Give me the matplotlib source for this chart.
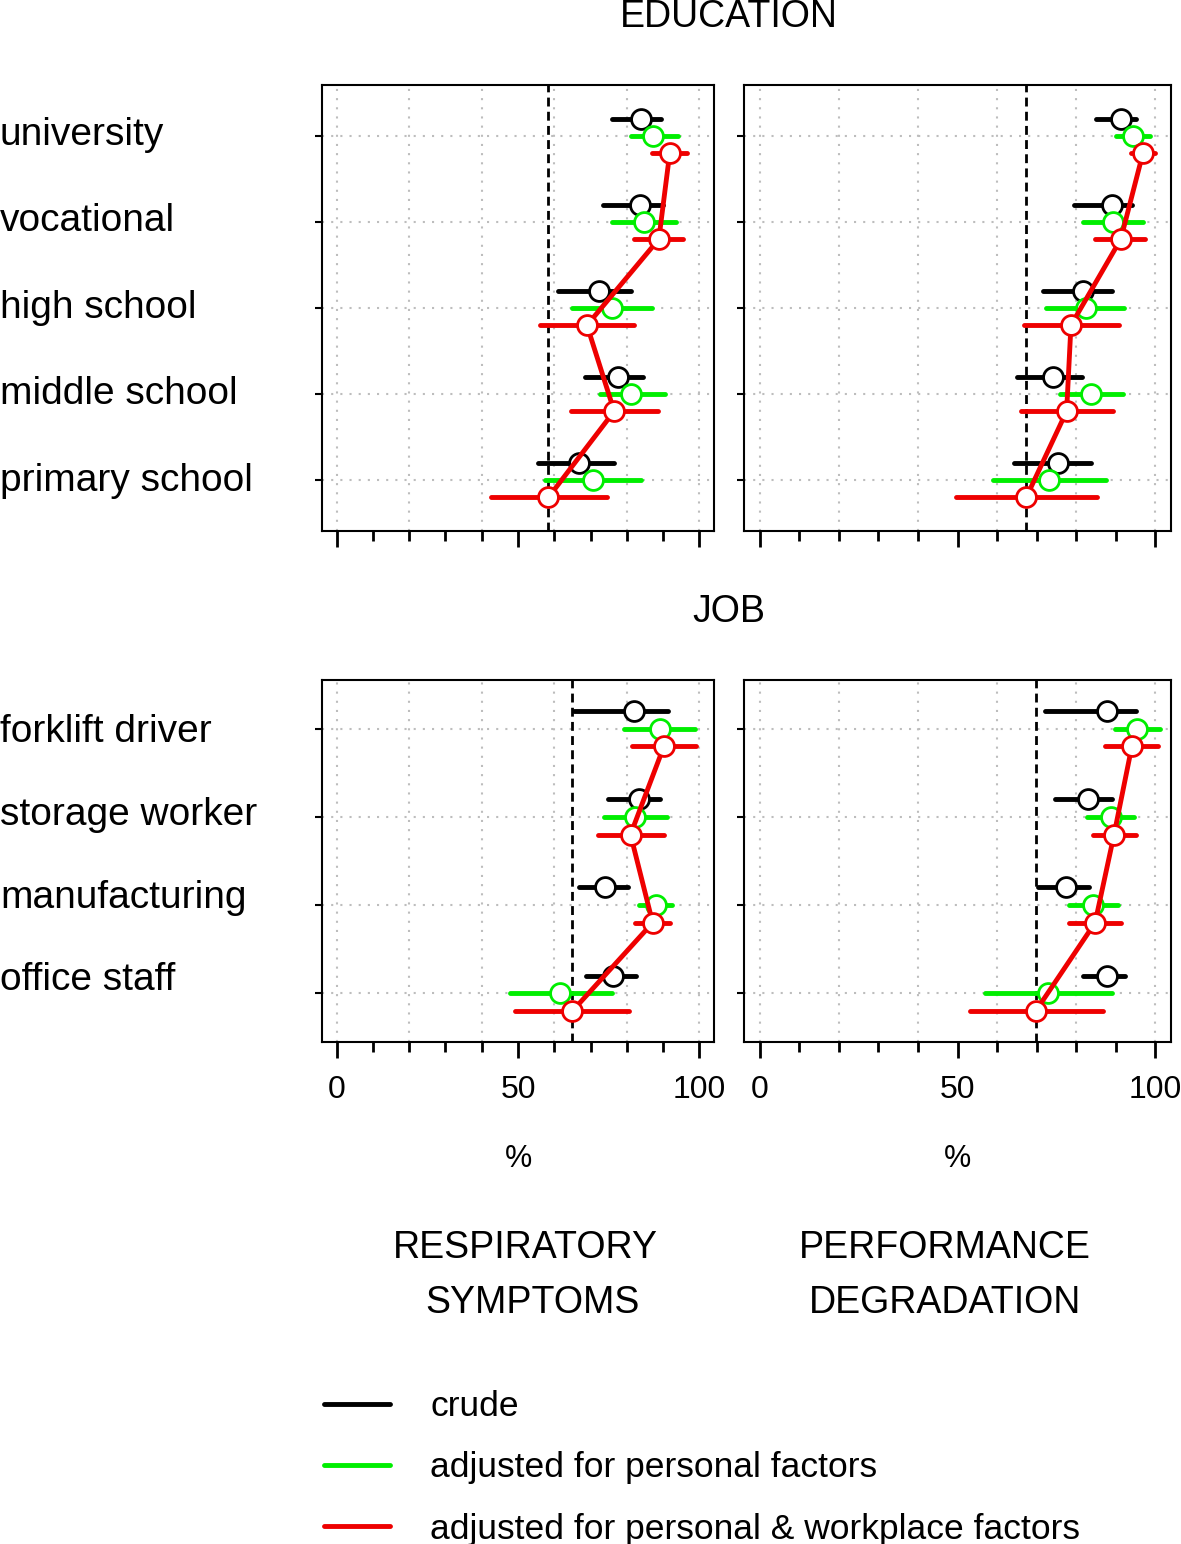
import matplotlib
matplotlib.use("Agg")
import matplotlib.pyplot as plt
from matplotlib.lines import Line2D
import numpy as np

plt.rcParams["font.family"] = ["Liberation Sans", "DejaVu Sans"]

# ---- data (percent) ----
edu_cats = ["university", "vocational", "high school", "middle school", "primary school"]
job_cats = ["forklift driver", "storage worker", "manufacturing", "office staff"]

# education / respiratory symptoms
edu_resp_crude = [84.0, 83.5, 72.3, 77.5, 66.7]
edu_resp_crude_lo = [76.0, 73.5, 61.0, 68.5, 55.5]
edu_resp_crude_hi = [89.5, 90.0, 81.0, 84.5, 76.5]
edu_resp_pers = [87.2, 84.6, 76.0, 81.2, 70.7]
edu_resp_pers_lo = [81.0, 76.0, 65.0, 72.5, 57.5]
edu_resp_pers_hi = [94.0, 93.5, 87.0, 90.5, 84.0]
edu_resp_work = [91.8, 88.8, 69.0, 76.5, 58.4]
edu_resp_work_lo = [87.0, 82.0, 56.0, 64.5, 42.5]
edu_resp_work_hi = [96.5, 95.5, 82.0, 88.5, 74.5]

# education / performance degradation
edu_perf_crude = [91.4, 89.0, 81.8, 74.2, 75.3]
edu_perf_crude_lo = [85.0, 79.5, 71.5, 65.0, 64.2]
edu_perf_crude_hi = [95.2, 94.2, 89.0, 81.6, 83.7]
edu_perf_pers = [94.5, 89.3, 82.4, 83.8, 73.2]
edu_perf_pers_lo = [90.0, 81.7, 72.5, 76.0, 59.0]
edu_perf_pers_hi = [98.8, 97.0, 92.0, 91.8, 87.6]
edu_perf_work = [96.9, 91.3, 78.7, 77.6, 67.4]
edu_perf_work_lo = [93.8, 84.8, 66.8, 66.0, 49.7]
edu_perf_work_hi = [100.0, 97.5, 90.8, 89.4, 85.3]

# job / respiratory symptoms
job_resp_crude = [81.9, 83.3, 73.9, 76.2]
job_resp_crude_lo = [65.3, 74.9, 66.7, 68.8]
job_resp_crude_hi = [91.3, 89.2, 80.3, 82.4]
job_resp_pers = [89.0, 82.2, 87.9, 61.6]
job_resp_pers_lo = [79.2, 73.7, 83.3, 47.8]
job_resp_pers_hi = [98.7, 91.0, 92.5, 75.8]
job_resp_work = [90.2, 81.0, 87.1, 65.0]
job_resp_work_lo = [81.5, 72.0, 82.3, 49.2]
job_resp_work_hi = [99.1, 90.1, 91.8, 80.7]

# job / performance degradation
job_perf_crude = [87.9, 83.1, 77.4, 87.9]
job_perf_crude_lo = [72.1, 74.6, 70.3, 81.7]
job_perf_crude_hi = [95.2, 89.2, 83.3, 92.4]
job_perf_pers = [95.3, 88.7, 84.2, 72.9]
job_perf_pers_lo = [89.8, 82.8, 78.3, 57.0]
job_perf_pers_hi = [101.1, 94.7, 90.7, 89.0]
job_perf_work = [94.1, 89.6, 84.8, 69.8]
job_perf_work_lo = [87.2, 84.3, 78.2, 53.1]
job_perf_work_hi = [100.8, 95.2, 91.4, 86.7]

legend_labels = ["crude", "adjusted for personal factors",
                 "adjusted for personal & workplace factors"]
colors = ["black", "#00ee00", "#ee0000"]
offsets = [0.2, 0.0, -0.2]

W, H = 1181, 1544
fig = plt.figure(figsize=(W / 100, H / 100), dpi=100)
GRID = dict(color="#bdbdbd", lw=1.5, ls=(0, (1, 3.4)), zorder=1)


def px_axes(x0, y0, x1, y1):
    return fig.add_axes([x0 / W, 1 - y1 / H, (x1 - x0) / W, (y1 - y0) / H])


def draw_panel(ax, cats, series, bottom_labels, label_pos=None):
    n = len(cats)
    ypos = np.arange(n, 0, -1)
    ax.set_xlim(-4, 104)
    ax.set_ylim(0.6 - 0.04 * (n - 0.2), n + 0.4 + 0.04 * (n - 0.2))

    for g in range(0, 101, 20):
        ax.axvline(g, **GRID)
    for y in ypos:
        ax.axhline(y, **GRID)

    for i, (pt, lo, hi) in enumerate(series):
        y = ypos + offsets[i]
        bars = ax.hlines(y, lo, hi, color=colors[i], lw=3.5, zorder=3 + 2 * i)
        bars.set_capstyle("round")
        if i == 2:
            ax.plot(pt, y, color=colors[i], lw=3.5, solid_capstyle="round",
                    solid_joinstyle="round", zorder=3 + 2 * i)
        ax.plot(pt, y, "o", ms=14.3, mfc="white", mec=colors[i], mew=2,
                zorder=4 + 2 * i)

    # reference category = last row, fully adjusted estimate
    ax.axvline(series[2][0][-1], color="black", lw=2, dashes=(3.2, 1.9), zorder=2)

    ax.set_xticks([0, 50, 100])
    ax.set_xticks(range(0, 101, 10), minor=True)
    ax.set_yticks(ypos)
    ax.tick_params(axis="x", which="major", length=11.5, width=2, labelsize=23,
                   pad=12, labelbottom=bottom_labels)
    ax.tick_params(axis="x", which="minor", length=7, width=2)
    ax.tick_params(axis="y", length=5, width=1.5, labelleft=False)
    for s in ax.spines.values():
        s.set_linewidth(1.5)

    # row labels at the far left (baselines in figure pixels: first, step)
    if label_pos is not None:
        first, step = label_pos
        for k, c in enumerate(cats):
            fig.text(0, 1 - (first + k * step) / H, c, fontsize=28,
                     ha="left", va="baseline")


ax_tl = px_axes(322, 85, 714, 531)
ax_tr = px_axes(744, 85, 1171, 531)
ax_bl = px_axes(322, 680, 714, 1042)
ax_br = px_axes(744, 680, 1171, 1042)

draw_panel(ax_tl, edu_cats, [
    (edu_resp_crude, edu_resp_crude_lo, edu_resp_crude_hi),
    (edu_resp_pers, edu_resp_pers_lo, edu_resp_pers_hi),
    (edu_resp_work, edu_resp_work_lo, edu_resp_work_hi)], False, (145, 86.4))
draw_panel(ax_tr, edu_cats, [
    (edu_perf_crude, edu_perf_crude_lo, edu_perf_crude_hi),
    (edu_perf_pers, edu_perf_pers_lo, edu_perf_pers_hi),
    (edu_perf_work, edu_perf_work_lo, edu_perf_work_hi)], False)
draw_panel(ax_bl, job_cats, [
    (job_resp_crude, job_resp_crude_lo, job_resp_crude_hi),
    (job_resp_pers, job_resp_pers_lo, job_resp_pers_hi),
    (job_resp_work, job_resp_work_lo, job_resp_work_hi)], True, (742.5, 82.5))
draw_panel(ax_br, job_cats, [
    (job_perf_crude, job_perf_crude_lo, job_perf_crude_hi),
    (job_perf_pers, job_perf_pers_lo, job_perf_pers_hi),
    (job_perf_work, job_perf_work_lo, job_perf_work_hi)], True)

for ax in (ax_bl, ax_br):
    ax.set_xlabel("%", fontsize=22, labelpad=28)

fig.text(729 / W, 1 - 27 / H, "EDUCATION", fontsize=27, ha="center", va="baseline")
fig.text(729 / W, 1 - 622 / H, "JOB", fontsize=27, ha="center", va="baseline")
fig.text(525 / W, 1 - 1258 / H, "RESPIRATORY", fontsize=27, ha="center", va="baseline")
fig.text(533 / W, 1 - 1313 / H, "SYMPTOMS", fontsize=27, ha="center", va="baseline")
fig.text(945 / W, 1 - 1258 / H, "PERFORMANCE", fontsize=27, ha="center", va="baseline")
fig.text(945 / W, 1 - 1313 / H, "DEGRADATION", fontsize=27, ha="center", va="baseline")

handles = [Line2D([], [], color=c, lw=3.5, solid_capstyle="round") for c in colors]
fig.legend(handles, legend_labels, loc="upper left",
           bbox_to_anchor=(324 / W, 1 - 1390 / H), frameon=False, fontsize=25.5,
           borderpad=0, borderaxespad=0, handlelength=1.85, handletextpad=1.15,
           labelspacing=0.8)

fig.savefig("out.png", dpi=100)
